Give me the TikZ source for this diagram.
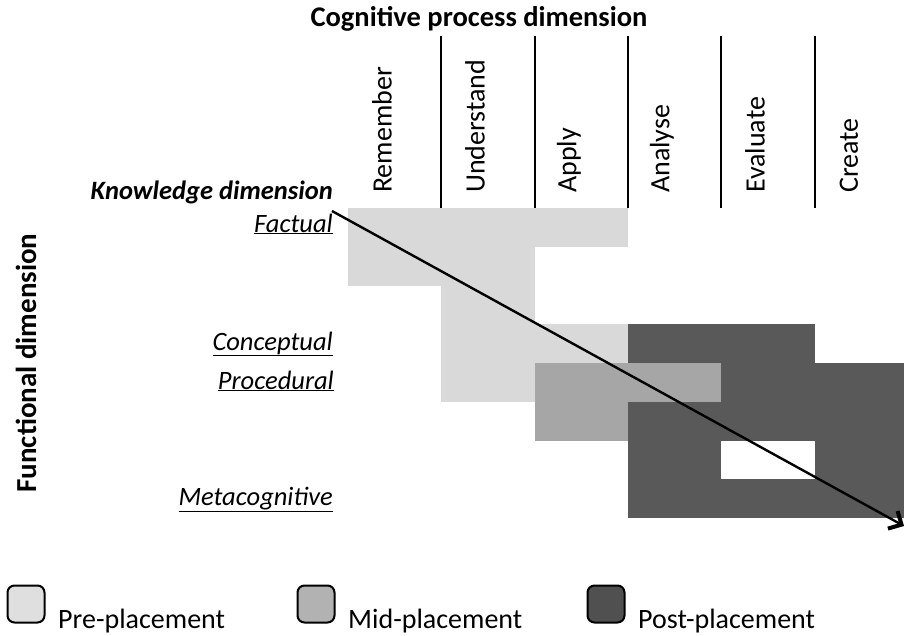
\documentclass[tikz,border=0pt]{standalone}
\usepackage{fontspec}
\setmainfont{Carlito}
\usetikzlibrary{arrows.meta}
\definecolor{lightg}{HTML}{D9D9D9}
\definecolor{midg}{HTML}{A6A6A6}
\definecolor{darkg}{HTML}{595959}
\definecolor{legl}{HTML}{DFDFDF}
\definecolor{legm}{HTML}{B2B2B2}
\definecolor{legd}{HTML}{505050}
\tikzset{
  colsep/.style={line width=2pt, black},
  collab/.style={rotate=90, anchor=west, inner sep=0pt, font=\fontsize{28}{30}\selectfont},
  rowlab/.style={anchor=base east, inner sep=0pt, font=\fontsize{26.5}{29}\selectfont\itshape},
  legbox/.style={draw=black, line width=2pt, rounded corners=7pt, minimum width=37pt, minimum height=37pt, inner sep=0pt},
  legtxt/.style={anchor=base west, inner sep=0pt, font=\fontsize{28}{30}\selectfont},
  ktraj/.style={line width=2.4pt, -{Straight Barb[length=10pt, width=20pt, line width=4pt]}}
}
\begin{document}
\begin{tikzpicture}[x=1pt, y=-1pt]
\useasboundingbox (0,0) rectangle (904,635);
% light
\fill[lightg] (348,208) rectangle (628,247);
\fill[lightg] (348,247) rectangle (535,286);
\fill[lightg] (441,286) rectangle (535,324);
\fill[lightg] (441,324) rectangle (628,363);
\fill[lightg] (441,363) rectangle (535,402);
% mid
\fill[midg] (535,363) rectangle (721,402);
\fill[midg] (535,402) rectangle (628,441);
% dark
\fill[darkg] (628,324) rectangle (815,363);
\fill[darkg] (721,363) rectangle (905,402);
\fill[darkg] (628,402) rectangle (905,441);
\fill[darkg] (628,441) rectangle (721,479);
\fill[darkg] (815,441) rectangle (905,479);
\fill[darkg] (628,479) rectangle (905,518);
% title
\node[anchor=base, inner sep=0pt, font=\fontsize{28.5}{31}\selectfont\bfseries] (title) at (479,26) {Cognitive process dimension};
% column separators
\foreach \x/\n in {441/a,535/b,628/c,721/d,815/e}{
  \coordinate (top\n) at (\x,36);
  \coordinate (bot\n) at (\x,208);
  \draw[colsep] (top\n) -- (bot\n);
}
% column labels
\node[collab] (rem) at (382,193) {Remember};
\node[collab] (und) at (475,193) {Understand};
\node[collab] (app) at (569,193) {Apply};
\node[collab] (ana) at (662,193) {Analyse};
\node[collab] (eva) at (755,193) {Evaluate};
\node[collab] (cre) at (849,193) {Create};
% row labels
\node[anchor=base east, inner sep=0pt, font=\fontsize{26.5}{29}\selectfont\bfseries\itshape] (kd) at (333,199) {Knowledge dimension};
\node[rowlab] (fac) at (333,232) {\underline{Factual}};
\node[rowlab] (con) at (333,350) {\underline{Conceptual}};
\node[rowlab] (pro) at (334,389) {\underline{Procedural}};
\node[rowlab] (met) at (333,505) {\underline{Metacognitive}};
% functional dimension
\node[rotate=90, inner sep=0pt, font=\fontsize{29}{31}\selectfont\bfseries] (fd) at (26,363) {Functional dimension};
% trajectory arrow
\coordinate (kstart) at (332,211);
\coordinate (kend) at (904,526);
\draw[ktraj] (kstart) -- (kend);
% legend
\node[legbox, fill=legl] (b1) at (26,604) {};
\node[legtxt] (t1) at (58,628) {Pre-placement};
\node[legbox, fill=legm] (b2) at (316,604) {};
\node[legtxt] (t2) at (348,628) {Mid-placement};
\node[legbox, fill=legd] (b3) at (606,604) {};
\node[legtxt] (t3) at (638,628) {Post-placement};
\end{tikzpicture}
\end{document}
